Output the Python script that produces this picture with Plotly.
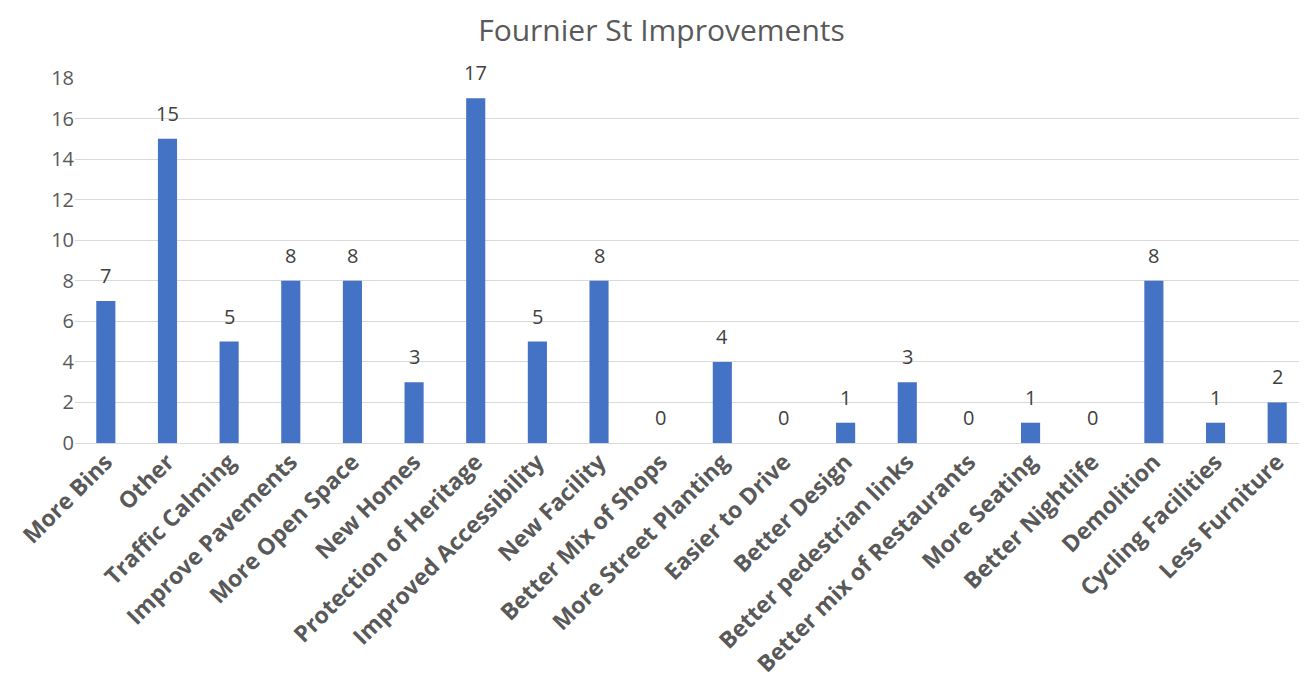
import plotly.graph_objects as go

categories = ["More Bins", "Other", "Traffic Calming", "Improve Pavements", "More Open Space",
              "New Homes", "Protection of Heritage", "Improved Accessibility", "New Facility",
              "Better Mix of Shops", "More Street Planting", "Easier to Drive", "Better Design",
              "Better pedestrian links", "Better mix of Restaurants", "More Seating",
              "Better Nightlife", "Demolition", "Cycling Facilities", "Less Furniture"]
values = [7, 15, 5, 8, 8, 3, 17, 5, 8, 0, 4, 0, 1, 3, 0, 1, 0, 8, 1, 2]
y_ticks = [0, 2, 4, 6, 8, 10, 12, 14, 16, 18]

FONT = "Open Sans"

fig = go.Figure(go.Bar(
    x=categories, y=values,
    marker=dict(color="#4472C4", line=dict(width=0)),
    width=0.31,
    cliponaxis=False,
))

for c, v in zip(categories, values):
    fig.add_annotation(x=c, y=v, text=str(v), showarrow=False, yanchor="bottom",
                       yshift=10, font=dict(family=FONT, size=20, color="#404040"))

fig.update_layout(
    width=1307, height=697,
    paper_bgcolor="white", plot_bgcolor="white",
    margin=dict(l=67, r=7, t=70, b=262),
    title=dict(text="Fournier St Improvements", x=0.5, xanchor="center", y=0.968, yanchor="middle",
               font=dict(family=FONT, size=30, color="#595959")),
    showlegend=False,
    bargap=0.69,
)
fig.update_yaxes(range=[0, 18], tickvals=y_ticks, showgrid=True, gridcolor="#d9d9d9", gridwidth=1,
                 zeroline=True, zerolinecolor="#d9d9d9", zerolinewidth=1,
                 tickfont=dict(family=FONT, size=20, color="#595959"),
                 ticks="", ticksuffix="\u00a0\u00a0\u00a0\u00a0", showline=False)
fig.update_xaxes(tickangle=-45, tickfont=dict(family=FONT, size=23, color="#595959", weight="bold"),
                 showgrid=False, showline=False, ticks="")
fig.add_annotation(text="<b>v</b>", xref="paper", yref="paper", x=1.0, y=-0.69,
                   xanchor="right", yanchor="bottom", xshift=5, showarrow=False,
                   font=dict(family=FONT, size=16, color="#595959"))

fig.write_html("out.html")
